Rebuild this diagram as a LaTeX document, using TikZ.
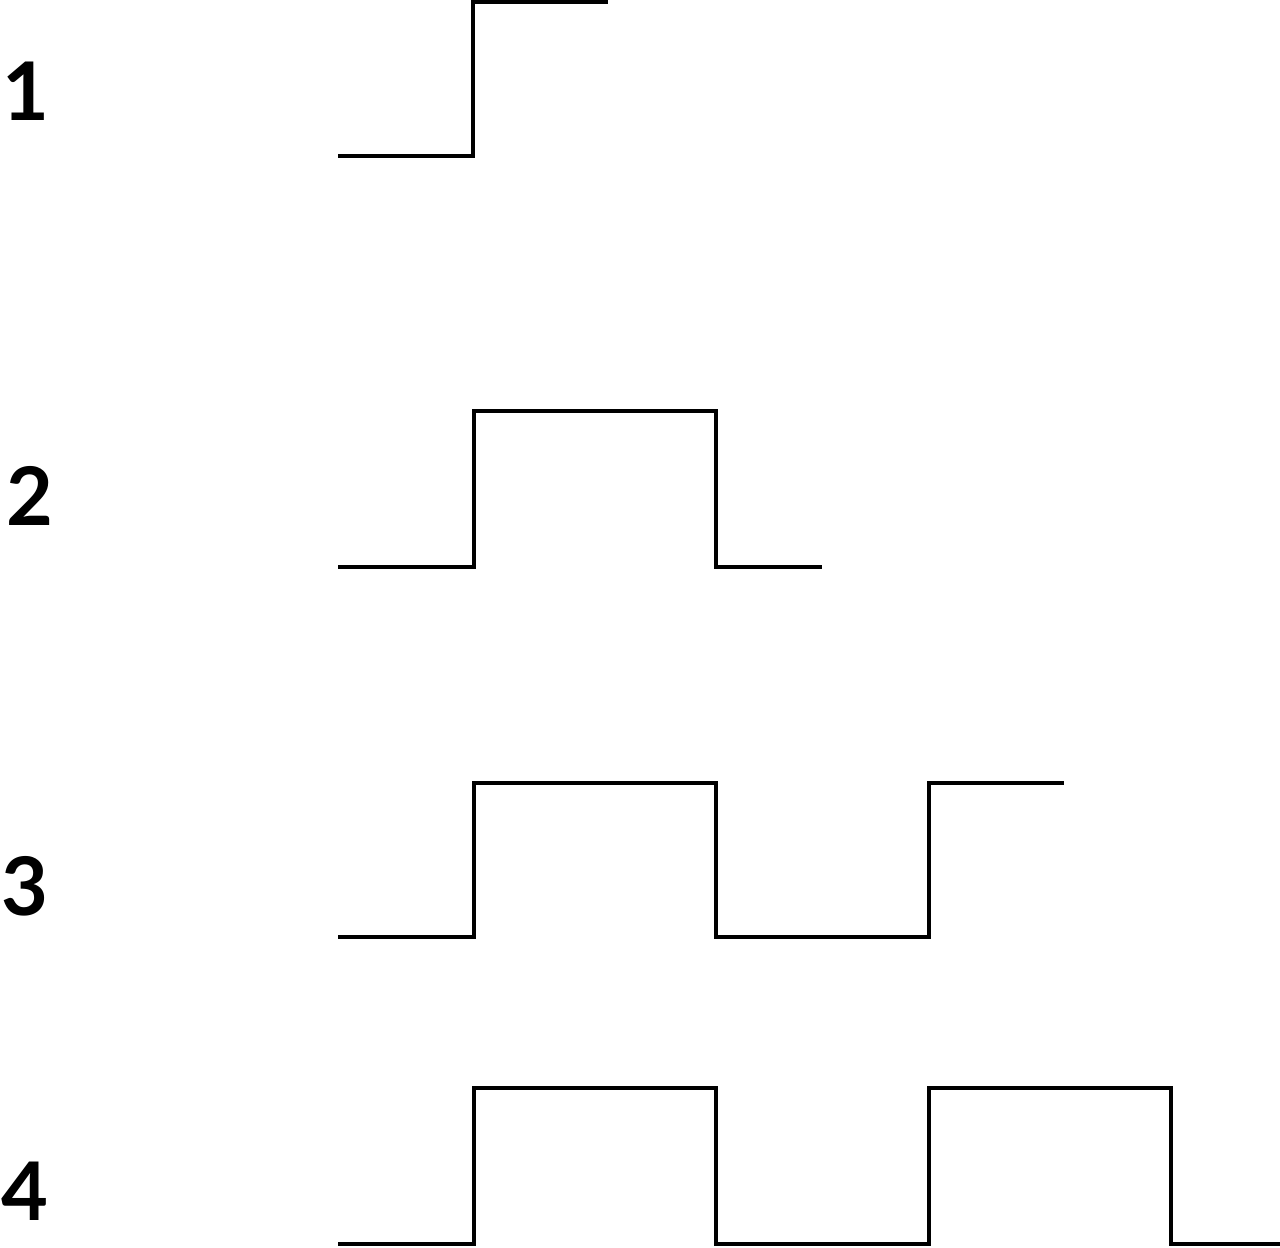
\documentclass[tikz,border=0pt]{standalone}
\usepackage{fontspec}
\newfontfamily\lblfont{Lato}

\begin{document}
\begin{tikzpicture}[x=0.02cm,y=-0.02cm,line width=1.8pt,line join=miter,
  lbl/.style={inner sep=0pt,font=\lblfont\fontsize{46}{46}\selectfont\bfseries}]
 \useasboundingbox (0,0) rectangle (1280,1247);
 % row labels
 \node[lbl] (n1) at (26,91) {1};
 \node[lbl] (n2) at (30,496) {2};
 \node[lbl] (n3) at (25,886) {3};
 \node[lbl] (n4) at (25,1191) {4};
 % waveforms
 \draw (338,156)--(473,156)--(473,2)--(608,2);
 \draw (338,567)--(474,567)--(474,411)--(716,411)--(716,567)--(822,567);
 \draw (338,937)--(474,937)--(474,783)--(716,783)--(716,937)--(929,937)--(929,783)--(1064,783);
 \draw (338,1244)--(474,1244)--(474,1088)--(716,1088)--(716,1244)--(929,1244)--(929,1088)--(1171,1088)--(1171,1244)--(1280,1244);
\end{tikzpicture}
\end{document}
